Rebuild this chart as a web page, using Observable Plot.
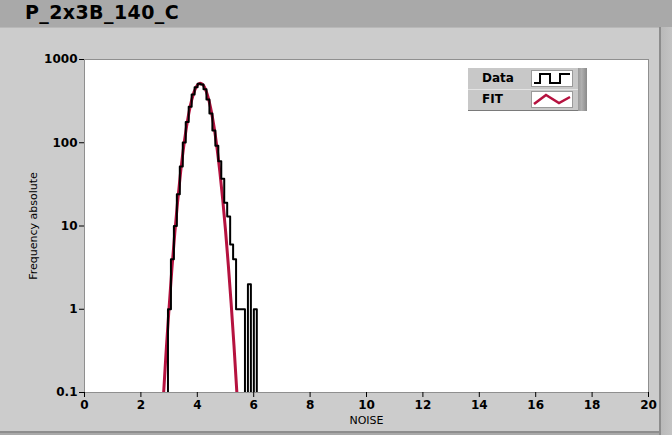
<!DOCTYPE html>
<html>
<head>
<meta charset="utf-8">
<script src="https://cdn.jsdelivr.net/npm/d3@7"></script>
<script src="https://cdn.jsdelivr.net/npm/@observablehq/plot@0.6"></script>
<style>
  html, body { margin: 0; padding: 0; }
  body { width: 672px; height: 435px; overflow: hidden; background: #a9a9a9; font-family: "DejaVu Sans", sans-serif; }
  #wrap { position: relative; width: 672px; height: 435px; }
  #titlebar { position: absolute; left: 0; top: 0; width: 672px; height: 27px; background: #a9a9a9; }
  #title { position: absolute; left: 25px; top: 1px; font: bold 19px "DejaVu Sans", sans-serif; color: #000; letter-spacing: 0.4px; }
  #panel { position: absolute; left: 0; top: 27px; width: 659px; height: 403px; background: #cccccc; border-top: 1px solid #b8b8b8; border-bottom: 2px solid #8e8e8e; }
  #rstrip { position: absolute; left: 659px; top: 27px; width: 13px; height: 408px; background: linear-gradient(to right, #8c8c8c 0px, #8c8c8c 2px, #b9b9b9 2px, #c4c4c4 13px); }
  #chart { position: absolute; left: 0; top: 0; }
  #legend { position: absolute; left: 468px; top: 68px; width: 119px; height: 43px; }
  #legend .bg { position: absolute; left: 0; top: 0; width: 110px; height: 42px; background: #c8c8c8; border-bottom: 1px solid #7a7a7a; }
  #legend .edge { position: absolute; left: 110px; top: 0; width: 9px; height: 43px; background: linear-gradient(to right, #9a9a9a, #b0b0b0 40%, #8a8a8a); }
  #legend .div { position: absolute; left: 0; top: 21px; width: 110px; height: 1px; background: #e4e4e4; }
  #legend .lab { position: absolute; left: 14px; font: bold 12px "DejaVu Sans", sans-serif; color: #000; }
  #legend .sw { position: absolute; left: 63px; width: 42px; height: 17px; background: #fff; border: 1px solid #9a9a9a; box-sizing: border-box; }
</style>
</head>
<body>
<div id="wrap">
  <div id="titlebar"></div>
  <div id="title">P_2x3B_140_C</div>
  <div id="panel"></div>
  <div id="rstrip"></div>
  <div id="chart"></div>
  <div id="legend">
    <div class="bg"></div>
    <div class="edge"></div>
    <div class="div"></div>
    <div class="lab" style="top:3px">Data</div>
    <div class="lab" style="top:24px">FIT</div>
    <div class="sw" style="top:2px">
      <svg width="40" height="15" style="position:absolute;left:0;top:0"><path d="M2,12 H8 V3 H18 V12 H28 V3 H38" fill="none" stroke="#000" stroke-width="2"/></svg>
    </div>
    <div class="sw" style="top:23px">
      <svg width="40" height="15" style="position:absolute;left:0;top:0"><path d="M2,12 L14,3 L27,11 L38,5" fill="none" stroke="#b5123f" stroke-width="2.5"/></svg>
    </div>
  </div>
</div>
<script>
// ---- Data ----
const binStart = 2.96;      // NOISE value of the first histogram edge
const binWidth = 0.105;     // NOISE width of one bin
const counts = [1, 4, 10, 24, 52, 101, 178, 270, 380, 465, 510, 500, 440, 330, 225, 140, 92, 60, 37, 19, 13, 6, 4, 1, 1, 1, 0, 2, 0, 1];

const fitX = [2.8, 2.9, 3.0, 3.1, 3.2, 3.3, 3.4, 3.5, 3.6, 3.7, 3.8, 3.9, 4.0, 4.1, 4.2, 4.3, 4.4, 4.5, 4.6, 4.7, 4.8, 4.9, 5.0, 5.1, 5.2, 5.3, 5.4, 5.5];
const fitY = [0.091, 0.33, 1.05, 3.1, 8.1, 19.4, 41.7, 81, 142, 226, 324, 420, 492, 520, 497, 429, 334, 235, 150, 86, 44.7, 21, 8.9, 3.4, 1.18, 0.37, 0.104, 0.027];

const yTicks = [0.1, 1, 10, 100, 1000];
const yTickLabels = ["0.1", "1", "10", "100", "1000"];
const xTicks = [0, 2, 4, 6, 8, 10, 12, 14, 16, 18, 20];

// ---- Derived tables ----
const floor = 0.01; // below the axis: empty bins drop out of view
const steps = [];
steps.push({x: binStart, y: floor});
counts.forEach((c, i) => {
  const x0 = binStart + i * binWidth, x1 = x0 + binWidth;
  const v = c > 0 ? c : floor;
  steps.push({x: x0, y: v}, {x: x1, y: v});
});
steps.push({x: binStart + counts.length * binWidth, y: floor});
const fit = fitX.map((x, i) => ({x, y: fitY[i]}));

const chart = Plot.plot({
  width: 672,
  height: 435,
  marginLeft: 84,
  marginRight: 24,
  marginTop: 59,
  marginBottom: 43,
  style: {background: "transparent", fontFamily: "DejaVu Sans, sans-serif", color: "#000"},
  x: {domain: [0, 20], ticks: xTicks, label: null},
  y: {type: "log", domain: [0.1, 1000], ticks: yTicks, label: null},
  marks: [
    Plot.frame({fill: "#ffffff", stroke: "#8f8f8f"}),
    Plot.line(fit, {x: "x", y: "y", stroke: "#b5123f", strokeWidth: 3, curve: "catmull-rom", clip: true}),
    Plot.line(steps, {x: "x", y: "y", stroke: "#000", strokeWidth: 2, clip: true}),
    Plot.axisY({ticks: yTicks, tickFormat: (d) => yTickLabels[yTicks.indexOf(d)], tickSize: 5, tickPadding: 2, fontSize: 12, fontWeight: "bold", label: null, stroke: "#000"}),
    Plot.axisX({ticks: xTicks, tickSize: 5, tickPadding: 3, fontSize: 12, fontWeight: "bold", label: null}),
    Plot.text(["NOISE"], {frameAnchor: "bottom", dy: 31, fontSize: 11, text: (d) => d}),
    Plot.text(["Frequency absolute"], {frameAnchor: "left", dx: -51, rotate: -90, textAnchor: "middle", fontSize: 11, text: (d) => d})
  ]
});
document.getElementById("chart").appendChild(chart);
</script>
</body>
</html>
